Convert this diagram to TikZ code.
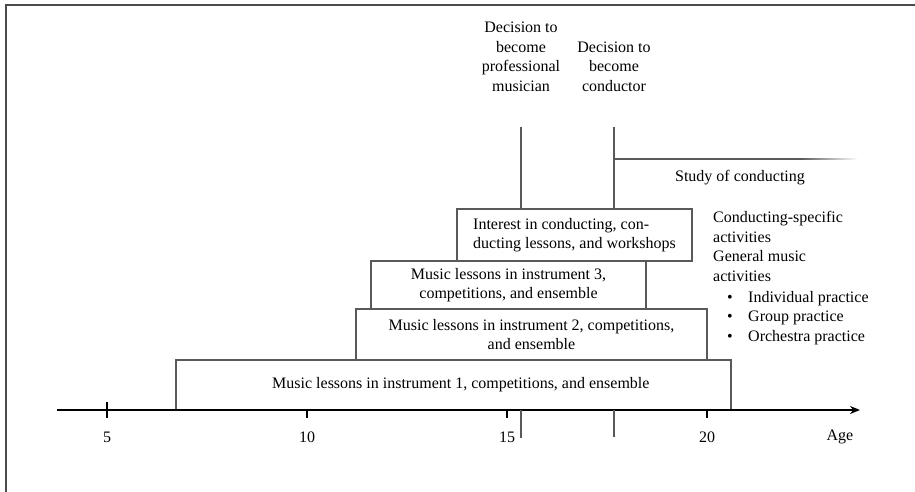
\documentclass[tikz,border=0pt]{standalone}
\usepackage{fontspec}
\setmainfont{Liberation Serif}
\usetikzlibrary{arrows.meta, positioning}
\definecolor{framegray}{gray}{0.3}
\definecolor{linegray}{gray}{0.35}

\begin{document}
\begin{tikzpicture}[
    x=1pt, y=-1pt,
    every node/.style = {
        font=\fontsize{16}{19.5}\selectfont,
        inner sep=0pt
    },
    stage box/.style = {
        draw=linegray,
        line width=1.1pt,
        align=center
    },
    axis line/.style = {
        line width=1.8pt,
        -{Stealth[length=10pt, width=8pt]}
    },
    tick line/.style = {line width=1.8pt},
    decision line/.style = {draw=linegray, line width=1.1pt},
    side text/.style = {align=left, anchor=west}
]

\useasboundingbox (0,0) rectangle (915,492);

% frame
\draw [framegray, line width=1.6pt] (915,5) -- (6,5) -- (6,492);

% stages
\node [stage box, minimum width=555pt, minimum height=50pt] (box1) at (453.5,385) {};
\node [right=0pt of box1.center, xshift=-181.5pt] (box1 text)
    {Music lessons in instrument 1, competitions, and ensemble};
\node [stage box, minimum width=351pt, minimum height=51pt] (box2) at (531.5,334.5)
    {Music lessons in instrument 2, competitions,\\and ensemble};
\node [stage box, minimum width=275pt, minimum height=48pt] (box3) at (508.5,285)
    {Music lessons in instrument 3,\\competitions, and ensemble};
\node [stage box, minimum width=235pt, minimum height=52pt, align=left] (box4) at (574.5,235)
    {Interest in conducting, con-\\ducting lessons, and workshops};

% axis
\draw [axis line] (57,410) -- (860,410);
\draw [tick line] (107,402) -- (107,410);
\foreach \a in {5,10,15,20} {
    \draw [tick line] ({107+(\a-5)*40},410) -- ++(0,8);
    \node (tick\a) at ({107+(\a-5)*40},437) {\a};
}
\node (age) at (840,437) {Age};

% decisions
\node [align=center] (dec1) at (521,57) {Decision to\\become\\professional\\musician};
\node [align=center] (dec2) at (614,66.5) {Decision to\\become\\conductor};
\coordinate (dec1 top) at (521,127);
\coordinate (dec2 top) at (614,127);
\draw [decision line] (dec1 top) -- (dec1 top |- box4.north);
\draw [decision line] (dec2 top) -- (dec2 top |- box4.north);
\draw [decision line] (521,410) -- (521,438);
\draw [decision line] (614,410) -- (614,437);

% study of conducting
\coordinate (study start) at (614,159);
\draw [decision line] (study start) -- (800,159);
\shade [left color=linegray, right color=white] (800,158.45) rectangle (858,159.55);
\node (study) at (740,178) {Study of conducting};

% activities
\node [side text] (activities) at (713,246.5)
    {Conducting-specific\\activities\\General music\\activities};
\node [side text] (practice) at (727,318)
    {\makebox[21pt][l]{\textbullet}Individual practice\\
     \makebox[21pt][l]{\textbullet}Group practice\\
     \makebox[21pt][l]{\textbullet}Orchestra practice};

\end{tikzpicture}
\end{document}
